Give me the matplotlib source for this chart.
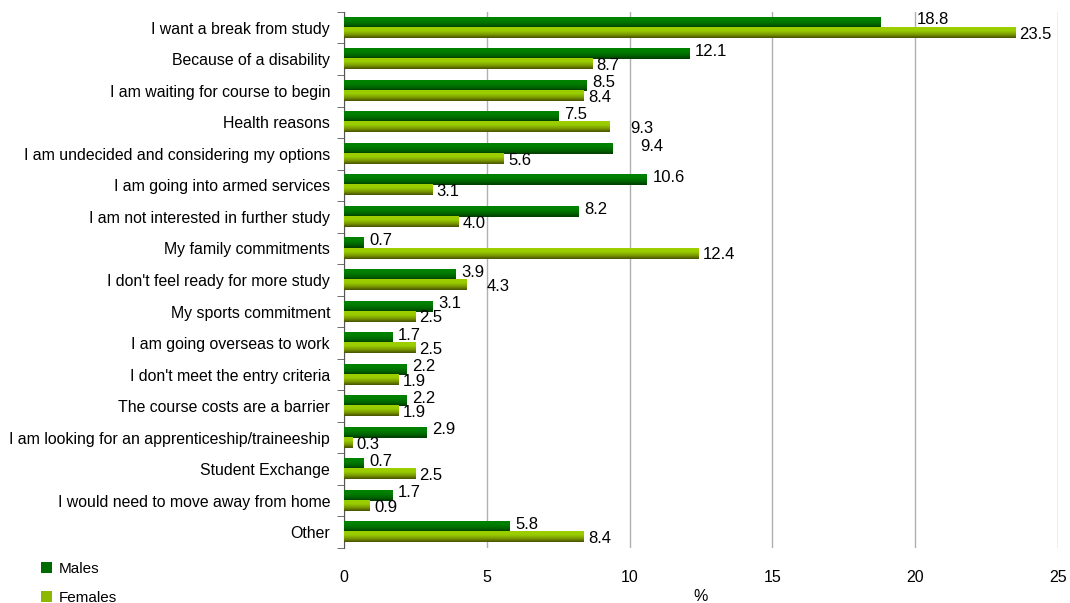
import numpy as np
import matplotlib.pyplot as plt
from matplotlib.colors import LinearSegmentedColormap
from matplotlib.patches import Patch

plt.rcParams['font.family'] = ['Liberation Sans', 'DejaVu Sans']
plt.rcParams['font.size'] = 11

# reasons for not going on to further study, % of males / females
reasons = [
    "I want a break from study",
    "Because of a disability",
    "I am waiting for course to begin",
    "Health reasons",
    "I am undecided and considering my options",
    "I am going into armed services",
    "I am not interested in further study",
    "My family commitments",
    "I don't feel ready for more study",
    "My sports commitment",
    "I am going overseas to work",
    "I don't meet the entry criteria",
    "The course costs are a barrier",
    "I am looking for an apprenticeship/traineeship",
    "Student Exchange",
    "I would need to move away from home",
    "Other",
]
males = [18.8, 12.1, 8.5, 7.5, 9.4, 10.6, 8.2, 0.7, 3.9, 3.1, 1.7, 2.2, 2.2, 2.9, 0.7, 1.7, 5.8]
females = [23.5, 8.7, 8.4, 9.3, 5.6, 3.1, 4.0, 12.4, 4.3, 2.5, 2.5, 1.9, 1.9, 0.3, 2.5, 0.9, 8.4]

fig = plt.figure(figsize=(10.7, 6.03), dpi=100)
ax = fig.add_axes([0.3215, 0.0912, 0.6673, 0.889])

n = len(reasons)
ypos = np.arange(n)[::-1]
h = 0.32

male_cmap = LinearSegmentedColormap.from_list('males', ['#003c00', '#006400', '#007e00', '#008200'])
female_cmap = LinearSegmentedColormap.from_list('females', ['#4a5200', '#7c9c00', '#99cc00', '#9dcf00'])
grad = np.linspace(1, 0, 32).reshape(-1, 1)


def gradient_bars(values, offset, cmap):
    for y, v in zip(ypos, values):
        y0 = y + offset
        ax.imshow(grad, cmap=cmap, extent=(0, v, y0, y0 + h), origin='upper',
                  aspect='auto', interpolation='bilinear', zorder=3)


gradient_bars(males, 0.0, male_cmap)
gradient_bars(females, -h, female_cmap)

# value labels, a few pushed sideways to clear neighbours
nudge = {('m', 0): 22, ('m', 4): 16, ('f', 3): 12, ('f', 8): 11}
for i, (y, v) in enumerate(zip(ypos, males)):
    ax.annotate(f'{v:.1f}', xy=(v, y + h / 2), xytext=(4 + nudge.get(('m', i), 0), 2),
                textcoords='offset points', ha='left', va='center', fontsize=12, zorder=4)
for i, (y, v) in enumerate(zip(ypos, females)):
    ax.annotate(f'{v:.1f}', xy=(v, y - h / 2), xytext=(3 + nudge.get(('f', i), 0), -1),
                textcoords='offset points', ha='left', va='center', fontsize=12, zorder=4)

ax.set_xlim(0, 25)
ax.set_ylim(-0.5, n - 0.5)
ax.set_xticks(range(0, 26, 5))
ax.grid(axis='x', color='#b0b0b0', lw=1)
ax.set_axisbelow(True)

ax.set_yticks(ypos)
ax.set_yticklabels(reasons)
ax.set_yticks(np.arange(n + 1) - 0.5, minor=True)
ax.tick_params(axis='y', which='major', length=0, pad=10, labelsize=11.4)
ax.tick_params(axis='y', which='minor', length=5, direction='out', color='#555555')
ax.tick_params(axis='x', length=0, pad=16, labelsize=11.5)

for side in ['top', 'right', 'bottom']:
    ax.spines[side].set_visible(False)
ax.spines['left'].set_color('#555555')

ax.set_xlabel('%', fontsize=11.5, labelpad=3)

handles = [Patch(facecolor='#006a00', label='Males'),
           Patch(facecolor='#8cb800', label='Females')]
fig.legend(handles=handles, loc='upper left', bbox_to_anchor=(0.0325, 0.078),
           frameon=False, handlelength=0.7, handleheight=0.7, handletextpad=0.45,
           labelspacing=0.95, fontsize=11, borderaxespad=0)

fig.savefig('out.png', dpi=100)
